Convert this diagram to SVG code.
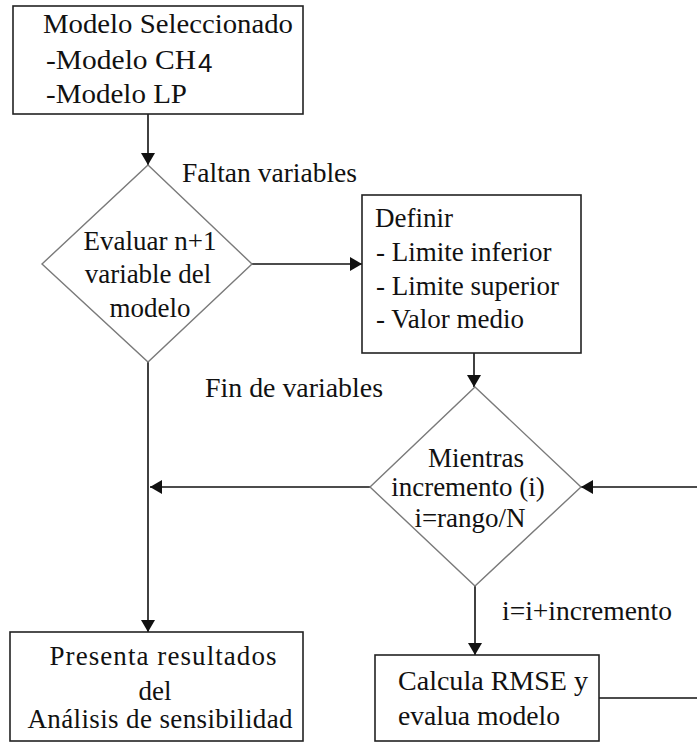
<svg xmlns="http://www.w3.org/2000/svg" width="697" height="742" viewBox="0 0 697 742">
  <style>
    .box { fill: #ffffff; stroke: #222222; stroke-width: 1.6; }
    .dia { fill: #ffffff; stroke: #7a7a7a; stroke-width: 1.4; }
    .t { font-size: 27px; fill: #111111; }
    .c { text-anchor: middle; }
    .wire { fill: none; stroke: #111111; stroke-width: 1.6; }
  </style>
  <defs>
    <marker id="arrow" markerUnits="userSpaceOnUse" markerWidth="12" markerHeight="14" refX="12" refY="7" orient="auto">
      <path d="M0,0 L12,7 L0,14 z" fill="#111111"/>
    </marker>
  </defs>

  <rect width="697" height="742" fill="#ffffff"/>

  <g font-family="'Liberation Serif', 'Times New Roman', 'DejaVu Serif', serif">
  <!-- connectors -->
  <g id="connectors">
    <path class="wire" d="M148,114 V165" marker-end="url(#arrow)"/>
    <path class="wire" d="M252,264 H362" marker-end="url(#arrow)"/>
    <path class="wire" d="M474,353 V387" marker-end="url(#arrow)"/>
    <path class="wire" d="M148,362 V632" marker-end="url(#arrow)"/>
    <path class="wire" d="M370,487 H150" marker-end="url(#arrow)"/>
    <path class="wire" d="M697,487 H581" marker-end="url(#arrow)"/>
    <path class="wire" d="M475,586 V655" marker-end="url(#arrow)"/>
    <path class="wire" d="M599,698 H697"/>
    <text class="t" x="182" y="182" textLength="175" lengthAdjust="spacingAndGlyphs">Faltan variables</text>
    <text class="t" x="205" y="397" textLength="178" lengthAdjust="spacingAndGlyphs">Fin de variables</text>
    <text class="t" x="502" y="620" textLength="170" lengthAdjust="spacingAndGlyphs">i=i+incremento</text>
  </g>

  <!-- selected model -->
  <g id="modelo">
    <rect class="box" x="13" y="6" width="290" height="108"/>
    <text class="t" x="43" y="33" textLength="250" lengthAdjust="spacingAndGlyphs">Modelo Seleccionado</text>
    <text class="t" x="46" y="69" textLength="150" lengthAdjust="spacingAndGlyphs">-Modelo CH</text>
    <text x="198" y="72" font-family="'Liberation Sans', Arial, sans-serif" font-size="26" fill="#111111">4</text>
    <text class="t" x="46" y="103" textLength="141" lengthAdjust="spacingAndGlyphs">-Modelo LP</text>
  </g>

  <!-- decision: evaluate next variable -->
  <g id="evaluar">
    <polygon class="dia" points="148,165 252,264 148,362 42,264"/>
    <text class="t c" x="150" y="250">Evaluar n+1</text>
    <text class="t c" x="148" y="283">variable del</text>
    <text class="t c" x="150" y="317">modelo</text>
  </g>

  <!-- define limits -->
  <g id="definir">
    <rect class="box" x="362" y="195" width="219" height="158"/>
    <text class="t" x="375" y="227">Definir</text>
    <text class="t" x="376" y="261">- Limite inferior</text>
    <text class="t" x="376" y="295">- Limite superior</text>
    <text class="t" x="376" y="328">- Valor medio</text>
  </g>

  <!-- loop decision -->
  <g id="mientras">
    <polygon class="dia" points="475,387 581,487 475,586 370,487"/>
    <text class="t c" x="476" y="467">Mientras</text>
    <text class="t c" x="468" y="496">incremento (i)</text>
    <text class="t c" x="470" y="527">i=rango/N</text>
  </g>

  <!-- results -->
  <g id="resultados">
    <rect class="box" x="10" y="632" width="293" height="109"/>
    <text class="t c" x="163" y="665" textLength="227" lengthAdjust="spacing">Presenta  resultados</text>
    <text class="t c" x="155" y="700">del</text>
    <text class="t c" x="160" y="728" textLength="265" lengthAdjust="spacing">Análisis de sensibilidad</text>
  </g>

  <!-- RMSE computation -->
  <g id="calcula">
    <rect class="box" x="375" y="655" width="224" height="86"/>
    <text class="t" x="398" y="690" textLength="190" lengthAdjust="spacingAndGlyphs">Calcula RMSE y</text>
    <text class="t" x="398" y="725" textLength="162" lengthAdjust="spacingAndGlyphs">evalua modelo</text>
  </g>
  </g>
</svg>
